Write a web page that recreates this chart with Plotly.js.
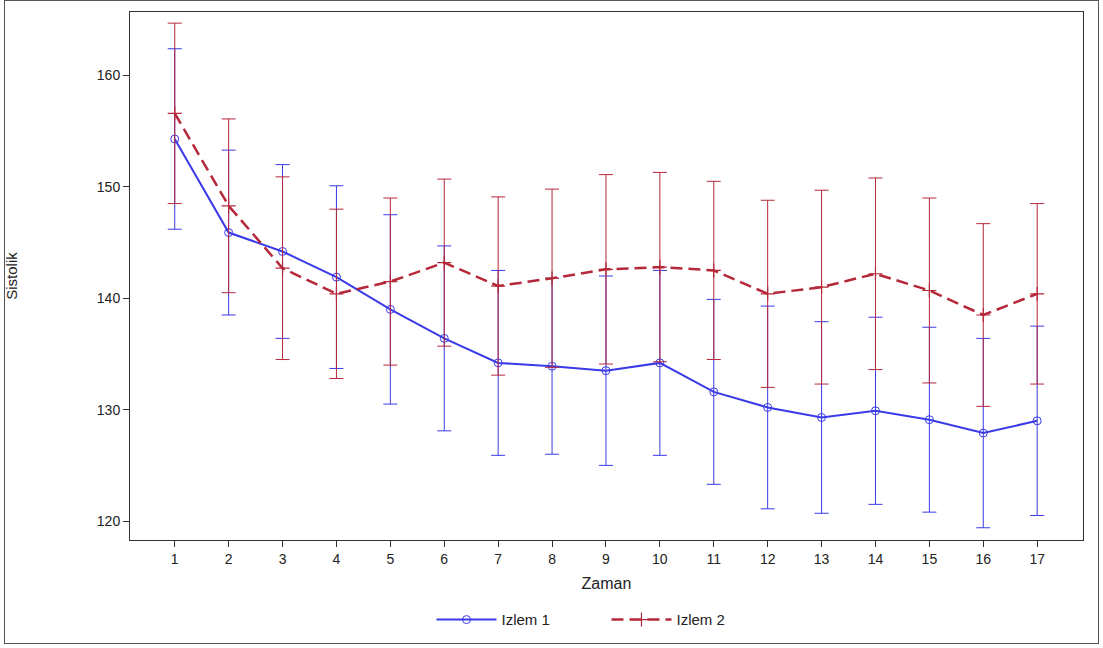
<!DOCTYPE html>
<html>
<head>
<meta charset="utf-8">
<script src="https://cdn.plot.ly/plotly-3.0.1.min.js"></script>
<style>
  body { margin: 0; background: #fff; }
  #frame { position: absolute; left: 4px; top: 0; width: 1095px; height: 644px; border: 1px solid #555; box-sizing: border-box; }
  #chart { position: absolute; left: 0; top: 0; width: 1103px; height: 648px; }
</style>
</head>
<body>
<div id="frame"></div>
<div id="chart"></div>
<script>
// Time points
var zaman = [1, 2, 3, 4, 5, 6, 7, 8, 9, 10, 11, 12, 13, 14, 15, 16, 17];

// Izlem 1: mean and error half-width
var izlem1 = [154.3, 145.9, 144.2, 141.9, 139.0, 136.4, 134.2, 133.9, 133.5, 134.2, 131.6, 130.2, 129.3, 129.9, 129.1, 127.9, 129.0];
var izlem1Err = [8.1, 7.4, 7.8, 8.2, 8.5, 8.3, 8.3, 7.9, 8.5, 8.3, 8.3, 9.1, 8.6, 8.4, 8.3, 8.5, 8.5];

// Izlem 2: mean and error half-width
var izlem2 = [156.6, 148.3, 142.7, 140.4, 141.5, 143.2, 141.1, 141.8, 142.6, 142.8, 142.5, 140.4, 141.0, 142.2, 140.7, 138.5, 140.4];
var izlem2Err = [8.1, 7.8, 8.2, 7.6, 7.5, 7.5, 8.0, 8.0, 8.5, 8.5, 8.0, 8.4, 8.7, 8.6, 8.3, 8.2, 8.1];

var blue = '#3a3ae8';
var red = '#b5283a';

var data = [
    {
        name: 'Izlem 1',
        x: zaman, y: izlem1,
        type: 'scatter', mode: 'lines+markers',
        line: {color: blue, width: 2},
        marker: {symbol: 'circle-open', size: 8, color: blue, line: {width: 1}},
        error_y: {type: 'data', array: izlem1Err, visible: true, color: blue, thickness: 1, width: 7}
    },
    {
        name: 'Izlem 2',
        x: zaman, y: izlem2,
        type: 'scatter', mode: 'lines+markers',
        line: {color: red, width: 2.5, dash: '12px,6px'},
        marker: {symbol: 'cross-thin-open', size: 10, color: red, line: {width: 1.2, color: red}},
        error_y: {type: 'data', array: izlem2Err, visible: true, color: red, thickness: 1, width: 7}
    }
];

var layout = {
    width: 1103, height: 648,
    margin: {l: 130, r: 20, t: 12, b: 106},
    paper_bgcolor: 'rgba(0,0,0,0)',
    plot_bgcolor: '#fff',
    font: {family: 'Liberation Sans, Arial, sans-serif', size: 14, color: '#222'},
    showlegend: true,
    legend: {orientation: 'h', x: 0.5, xanchor: 'center', y: -0.12, yanchor: 'top',
             font: {size: 15}, itemwidth: 60, entrywidth: 100},
    xaxis: {
        range: [0.17, 17.85], automargin: false,
        tickvals: zaman,
        ticks: 'outside', ticklen: 6, tickcolor: '#333',
        showgrid: false, zeroline: false,
        showline: true, mirror: true, linecolor: '#333', linewidth: 1,
        title: {text: 'Zaman', font: {size: 16}, standoff: 12}
    },
    yaxis: {
        range: [118.3, 165.7], automargin: false,
        tickvals: [120, 130, 140, 150, 160],
        ticks: 'outside', ticklen: 6, tickcolor: '#333',
        showgrid: false, zeroline: false,
        showline: true, mirror: true, linecolor: '#333', linewidth: 1,
        title: {text: 'Sistolik', font: {size: 15}, standoff: 75}
    }
};

Plotly.newPlot('chart', data, layout, {displayModeBar: false});
</script>
</body>
</html>
